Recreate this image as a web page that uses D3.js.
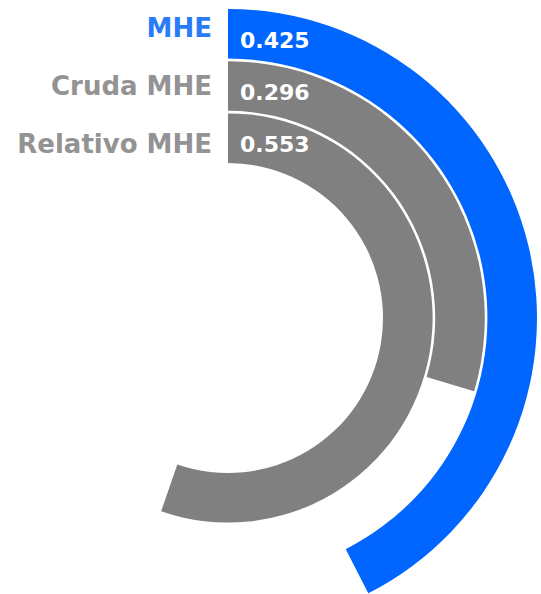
<!DOCTYPE html>
<html>
<head>
<meta charset="utf-8">
<script src="https://cdn.jsdelivr.net/npm/d3@7"></script>
<style>
  html, body { margin: 0; padding: 0; background: #ffffff; }
  svg { display: block; }
</style>
</head>
<body>
<svg id="chart" width="541" height="594"></svg>
<script>
const categories = ["MHE", "Cruda MHE", "Relativo MHE"];
const values = [0.425, 0.296, 0.553];
const valueLabels = ["0.425", "0.296", "0.553"];
const barColors = ["#0066ff", "#808080", "#808080"];
const labelColors = ["#2a7cf6", "#939393", "#939393"];

const width = 541, height = 594;
const cx = 228, cy = 318;
const innerR = 155, outerR = 309;

const svg = d3.select("#chart");
const g = svg.append("g").attr("transform", `translate(${cx},${cy})`);

// angle scale: value -> radians (full circle = 1)
const angle = d3.scaleLinear().domain([0, 1]).range([0, 2 * Math.PI]);
// radial band scale: outermost ring is the first category
const radius = d3.scaleBand()
  .domain(categories.slice().reverse())
  .range([innerR, outerR])
  .paddingInner(0.05);

const data = categories.map((c, i) => ({ cat: c, value: values[i], label: valueLabels[i], color: barColors[i], lcolor: labelColors[i], i }));

const arc = d3.arc()
  .innerRadius(d => radius(d.cat))
  .outerRadius(d => radius(d.cat) + radius.bandwidth())
  .startAngle(0)
  .endAngle(d => angle(d.value));

g.selectAll("path.bar")
  .data(data)
  .join("path")
  .attr("class", "bar")
  .attr("d", arc)
  .attr("fill", d => d.color);

// value labels inside ring starts
g.selectAll("text.val")
  .data(data)
  .join("text")
  .attr("class", "val")
  .attr("x", 12)
  .attr("y", d => -(radius(d.cat) + radius.bandwidth() / 2) + 14)
  .attr("fill", "#ffffff")
  .attr("font-family", "DejaVu Sans, Verdana, sans-serif")
  .attr("font-weight", "bold")
  .attr("font-size", "22px")
  .text(d => d.label);

// category labels on the left
const labelY = d3.scalePoint().domain(categories).range([37, 153]);
svg.selectAll("text.cat")
  .data(data)
  .join("text")
  .attr("class", "cat")
  .attr("x", 212)
  .attr("y", d => labelY(d.cat))
  .attr("text-anchor", "end")
  .attr("fill", d => d.lcolor)
  .attr("font-family", "DejaVu Sans, Verdana, sans-serif")
  .attr("font-weight", "bold")
  .attr("font-size", "26px")
  .text(d => d.cat);
</script>
</body>
</html>
